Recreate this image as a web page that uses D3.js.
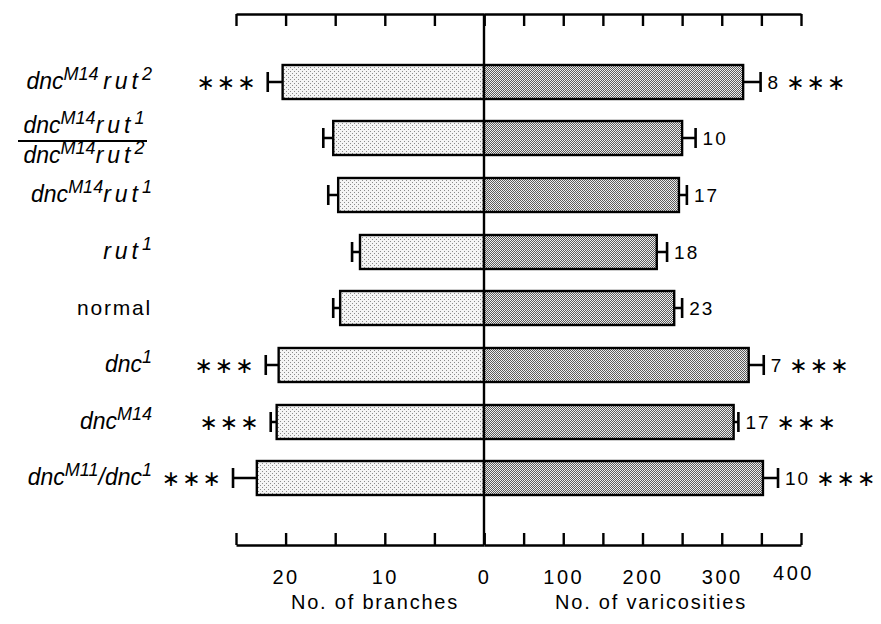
<!DOCTYPE html>
<html>
<head>
<meta charset="utf-8">
<script src="https://cdn.jsdelivr.net/npm/d3@7"></script>
<style>
  body { margin:0; background:#fff; }
  svg { display:block; }
  .lbl { font-family:"Liberation Sans", Arial, sans-serif; font-size:23px; fill:#000; }
  .num { font-family:"Liberation Sans", Arial, sans-serif; font-size:20px; fill:#000; letter-spacing:2.5px; }
  .star { font-family:"DejaVu Sans", sans-serif; font-size:22px; fill:#000; letter-spacing:2px; }
</style>
</head>
<body>
<svg id="chart" width="881" height="624"></svg>
<script>
'use strict';
// genotypes, top to bottom ("|" = stacked fraction, ^{..} = superscript)
var genotypes = ['dnc^{M14} rut^{2}', 'dnc^{M14}rut^{1}|dnc^{M14}rut^{2}', 'dnc^{M14}rut^{1}', 'rut^{1}',
                 'normal', 'dnc^{1}', 'dnc^{M14}', 'dnc^{M11}/dnc^{1}'];
// No. of branches (left), mean and SEM
var branches    = [20.3, 15.2, 14.7, 12.5, 14.5, 20.7, 20.9, 22.9];
var branchesErr = [1.5, 1.0, 1.0, 0.8, 0.7, 1.3, 0.6, 2.4];
// No. of varicosities (right), mean and SEM
var varicos     = [327, 250, 246, 218, 240, 334, 315, 352];
var varicosErr  = [22, 17, 10, 13, 10, 19, 6, 19];
var nLarvae     = [8, 10, 17, 18, 23, 7, 17, 10];
var sigLeft     = ['***', '', '', '', '', '***', '***', '***'];
var sigRight    = ['***', '', '', '', '', '***', '***', '***'];
var branchTicks = [0, 5, 10, 15, 20, 25];
var branchLabels = [0, 10, 20];
var varTicks    = [0, 50, 100, 150, 200, 250, 300, 350, 400];
var varLabels   = [100, 200, 300, 400];

var svg = d3.select('#chart');
var x0 = 484, topY = 14, botY = 545;

var xL = d3.scaleLinear().domain([0, 25]).range([x0, 236]);
var xR = d3.scaleLinear().domain([0, 400]).range([x0, 801]);
var y = d3.scaleBand().domain(d3.range(genotypes.length)).range([53.5, 506.5])
          .paddingInner(0.4).paddingOuter(0.2);

// fill patterns
var defs = svg.append('defs');
var pl = defs.append('pattern').attr('id','dotL').attr('patternUnits','userSpaceOnUse').attr('width',4).attr('height',4);
pl.append('rect').attr('width',4).attr('height',4).attr('fill','#f4f4f4');
pl.append('rect').attr('x',0).attr('y',0).attr('width',1).attr('height',1).attr('fill','#8a8a8a');
pl.append('rect').attr('x',2).attr('y',2).attr('width',1).attr('height',1).attr('fill','#8a8a8a');
var pr = defs.append('pattern').attr('id','dotR').attr('patternUnits','userSpaceOnUse').attr('width',2).attr('height',2);
pr.append('rect').attr('width',2).attr('height',2).attr('fill','#ececec');
pr.append('rect').attr('x',0).attr('y',0).attr('width',1).attr('height',1).attr('fill','#5a5a5a');
pr.append('rect').attr('x',1).attr('y',1).attr('width',1).attr('height',1).attr('fill','#5a5a5a');

// axes
function styleAxis(g){
  g.select('.domain').attr('stroke','#000').attr('stroke-width',2.6);
  g.selectAll('.tick line').attr('stroke','#000').attr('stroke-width',2.4);
  g.selectAll('.tick text').attr('class','num').attr('font-family',null).attr('font-size',null);
}
svg.append('g').attr('transform','translate(0,'+topY+')')
   .call(d3.axisTop(xL).tickValues(branchTicks).tickSizeInner(-12).tickSizeOuter(0).tickFormat(''))
   .call(styleAxis);
svg.append('g').attr('transform','translate(0,'+topY+')')
   .call(d3.axisTop(xR).tickValues(varTicks).tickSizeInner(-12).tickSizeOuter(0).tickFormat(''))
   .call(styleAxis);
svg.append('g').attr('transform','translate(0,'+botY+')')
   .call(d3.axisBottom(xL).tickValues(branchTicks).tickSizeInner(-12).tickSizeOuter(0).tickPadding(25)
           .tickFormat(function(d){ return branchLabels.indexOf(d) >= 0 ? d : ''; }))
   .call(styleAxis);
var axR = svg.append('g').attr('transform','translate(0,'+botY+')')
   .call(d3.axisBottom(xR).tickValues(varTicks).tickSizeInner(-12).tickSizeOuter(0).tickPadding(25)
           .tickFormat(function(d){ return varLabels.indexOf(d) >= 0 ? d : ''; }))
   .call(styleAxis);
axR.selectAll('.tick text').filter(function(d){ return d === 400; }).attr('dx', -8).attr('y', 21);

svg.append('line').attr('x1',x0).attr('x2',x0).attr('y1',topY).attr('y2',botY)
   .attr('stroke','#000').attr('stroke-width',2.4);

svg.append('text').attr('class','lbl').attr('x',375).attr('y',609).attr('text-anchor','middle')
   .style('font-size','20px').style('letter-spacing','1.8px').text('No. of branches');
svg.append('text').attr('class','lbl').attr('x',651).attr('y',609).attr('text-anchor','middle')
   .style('font-size','20px').style('letter-spacing','1.8px').text('No. of varicosities');

// bars
var rows = svg.append('g').attr('id','rows').selectAll('g').data(genotypes).enter().append('g')
   .attr('transform', function(d,i){ return 'translate(0,' + Math.round(y(i)) + ')'; });
var bh = Math.round(y.bandwidth());

rows.append('rect')
   .attr('x', function(d,i){ return xL(branches[i]); })
   .attr('width', function(d,i){ return x0 - xL(branches[i]); })
   .attr('height', bh).attr('fill','url(#dotL)').attr('stroke','#000').attr('stroke-width',2.4);
rows.append('rect')
   .attr('x', x0)
   .attr('width', function(d,i){ return xR(varicos[i]) - x0; })
   .attr('height', bh).attr('fill','url(#dotR)').attr('stroke','#000').attr('stroke-width',2.4);

// error bars
rows.append('path')
   .attr('d', function(d,i){
      var a = xL(branches[i]), b = xL(branches[i] + branchesErr[i]), m = bh/2;
      return 'M'+a+','+m+'H'+b+'M'+b+','+(m-10)+'V'+(m+10);
   })
   .attr('fill','none').attr('stroke','#000').attr('stroke-width',2.6);
rows.append('path')
   .attr('d', function(d,i){
      var a = xR(varicos[i]), b = xR(varicos[i] + varicosErr[i]), m = bh/2;
      return 'M'+a+','+m+'H'+b+'M'+b+','+(m-10)+'V'+(m+10);
   })
   .attr('fill','none').attr('stroke','#000').attr('stroke-width',2.6);

// n and significance
rows.append('text').attr('class','star')
   .attr('x', function(d,i){ return xL(branches[i] + branchesErr[i]) - 10; })
   .attr('y', bh/2 + 8).attr('text-anchor','end')
   .text(function(d,i){ return sigLeft[i].replace(/\*/g,'\u2217'); });
rows.append('text').attr('class','num')
   .attr('x', function(d,i){ return xR(varicos[i] + varicosErr[i]) + 7; })
   .attr('y', bh/2 + 7)
   .style('font-size','19px').style('letter-spacing','2px')
   .text(function(d,i){ return nLarvae[i]; })
   .each(function(d,i){
      var w = this.getComputedTextLength();
      d3.select(this.parentNode).append('text').attr('class','star')
        .attr('x', +d3.select(this).attr('x') + w + 6).attr('y', bh/2 + 8)
        .text(sigRight[i].replace(/\*/g,'\u2217'));
   });

// genotype labels
function addLine(txt, str){
  var parts = str.split(/(\^\{[^}]*\})/).filter(function(s){ return s.length; });
  var shifted = false;
  parts.forEach(function(p){
    if (p[0] === '^') {
      txt.append('tspan').attr('dy', -9).style('font-size','18px').text(p.slice(2, -1));
      shifted = true;
    } else {
      p.split(/(rut)/).filter(function(s){ return s.length; }).forEach(function(q){
        var t = txt.append('tspan').text(q === ' ' ? '\u2009' : q);
        if (q === 'rut') t.style('letter-spacing','4px');
        if (shifted) { t.attr('dy', 9); shifted = false; }
      });
    }
  });
}
rows.each(function(d,i){
  var g = d3.select(this), m = bh/2;
  if (d.indexOf('|') >= 0) {
    var fr = d.split('|');
    var t1 = g.append('text').attr('class','lbl').attr('x',84).attr('y',m-5).attr('text-anchor','middle').style('font-style','italic');
    addLine(t1, fr[0]);
    g.append('line').attr('x1',18).attr('x2',147).attr('y1',m+3).attr('y2',m+3).attr('stroke','#000').attr('stroke-width',2);
    var t2 = g.append('text').attr('class','lbl').attr('x',84).attr('y',m+25).attr('text-anchor','middle').style('font-style','italic');
    addLine(t2, fr[1]);
  } else {
    var t = g.append('text').attr('class','lbl').attr('x',152).attr('y',m+7).attr('text-anchor','end');
    if (d === 'normal') t.style('font-size','21px').style('letter-spacing','1.8px').text(d);
    else { t.style('font-style','italic'); addLine(t, d); }
  }
});
</script>
</body>
</html>
